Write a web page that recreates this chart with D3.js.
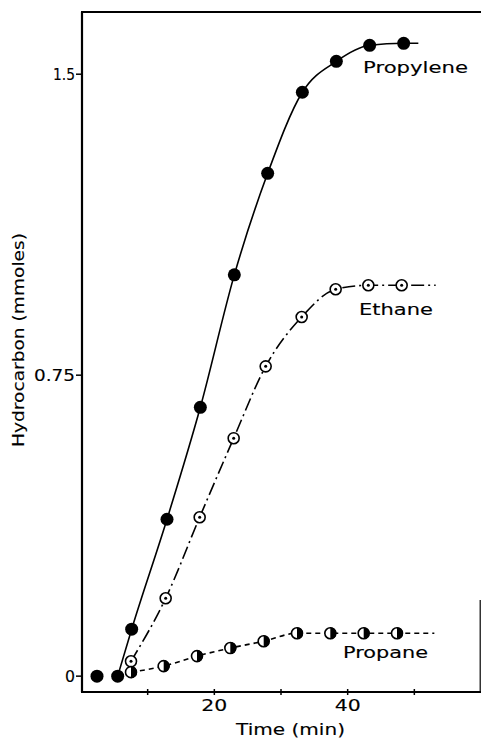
<!DOCTYPE html>
<html>
<head>
<meta charset="utf-8">
<script src="https://cdn.jsdelivr.net/npm/d3@7"></script>
<style>
  body { margin: 0; background: #fff; }
  svg { display: block; }
  text { font-family: "DejaVu Sans", sans-serif; fill: #000; stroke: #000; stroke-width: 0.12; }
</style>
</head>
<body>
<svg id="chart" width="482" height="738"></svg>
<script>
// time (min) and hydrocarbon (mmoles)
var propyleneTime = [2.4, 5.5, 7.6, 12.9, 17.9, 23.0, 28.0, 33.2, 38.3, 43.3, 48.4];
var propyleneVal  = [0, 0, 0.117, 0.391, 0.67, 1.0, 1.253, 1.455, 1.532, 1.572, 1.577];
var ethaneTime = [7.5, 12.7, 17.8, 22.9, 27.7, 33.1, 38.2, 43.1, 48.1];
var ethaneVal  = [0.037, 0.194, 0.396, 0.593, 0.772, 0.895, 0.964, 0.974, 0.974];
var propaneTime = [7.5, 12.4, 17.4, 22.4, 27.4, 32.4, 37.4, 42.4, 47.4];
var propaneVal  = [0.01, 0.025, 0.05, 0.07, 0.087, 0.107, 0.107, 0.107, 0.107];
// where each drawn curve stops past its last point
var lineEndTime = [50.6, 53.2, 53.0];

var yTicks = [0, 0.75, 1.5];
var yTickLabels = ["0", "0.75", "1.5"];
var xTicks = [10, 20, 30, 40, 50];
var xTickLabels = {20: "20", 40: "40"};

(function() {
    'use strict';

    var svg = d3.select("#chart");

    var x = d3.scaleLinear().domain([0, 60]).range([81, 481]);
    var y = d3.scaleLinear().domain([-0.037, 1.655]).range([691, 12]);

    function pts(ts, vs) {
        return ts.map(function(t, i) { return {t: t, v: vs[i]}; });
    }

    var propylene = pts(propyleneTime, propyleneVal),
        ethane = pts(ethaneTime, ethaneVal),
        propane = pts(propaneTime, propaneVal);

    var line = d3.line()
        .x(function(d) { return x(d.t); })
        .y(function(d) { return y(d.v); })
        .curve(d3.curveMonotoneX);

    var bottom = y.range()[0] + 1, top = y.range()[1];

    // frame: left, bottom, top and a short piece of the right edge
    svg.append("line")
        .attr("x1", x(0) + 1).attr("x2", x(0) + 1)
        .attr("y1", top).attr("y2", bottom)
        .attr("stroke", "#000").attr("stroke-width", 2.2);
    svg.append("line")
        .attr("x1", x(0)).attr("x2", x(60))
        .attr("y1", bottom).attr("y2", bottom)
        .attr("stroke", "#000").attr("stroke-width", 2);
    svg.append("line")
        .attr("x1", x(0)).attr("x2", x(60))
        .attr("y1", top).attr("y2", top)
        .attr("stroke", "#000").attr("stroke-width", 1.8);
    svg.append("line")
        .attr("x1", x(60) - 0.8).attr("x2", x(60) - 0.8)
        .attr("y1", 600).attr("y2", bottom)
        .attr("stroke", "#000").attr("stroke-width", 1.2);

    // y ticks
    var yt = svg.append("g");
    var yLabelW = [10, 41, 22];
    yTicks.forEach(function(v, i) {
        yt.append("line")
            .attr("x1", x(0) - 5).attr("x2", x(0) + 1)
            .attr("y1", y(v)).attr("y2", y(v))
            .attr("stroke", "#000").attr("stroke-width", 1.5);
        yt.append("text")
            .attr("x", x(0) - 6).attr("y", y(v)).attr("dy", "0.36em")
            .attr("text-anchor", "end")
            .style("font-size", "15px")
            .attr("textLength", yLabelW[i])
            .attr("lengthAdjust", "spacingAndGlyphs")
            .text(yTickLabels[i]);
    });

    // x ticks
    var xt = svg.append("g");
    xTicks.forEach(function(t) {
        xt.append("line")
            .attr("x1", x(t)).attr("x2", x(t))
            .attr("y1", bottom - 3).attr("y2", bottom + 3)
            .attr("stroke", "#000").attr("stroke-width", 1.5);
        if (xTickLabels[t]) {
            xt.append("text")
                .attr("x", x(t) - 13).attr("y", 711)
                .style("font-size", "15px")
                .attr("textLength", 26)
                .attr("lengthAdjust", "spacingAndGlyphs")
                .text(xTickLabels[t]);
        }
    });

    // axis titles
    svg.append("text")
        .attr("x", 236).attr("y", 735)
        .style("font-size", "15px")
        .attr("textLength", 109)
        .attr("lengthAdjust", "spacingAndGlyphs")
        .text("Time (min)");
    svg.append("text")
        .attr("transform", "translate(24,447) rotate(-90)")
        .style("font-size", "15px")
        .attr("textLength", 214)
        .attr("lengthAdjust", "spacingAndGlyphs")
        .text("Hydrocarbon (mmoles)");

    // curves
    var propyleneLine = propylene.slice(1).concat([{t: lineEndTime[0], v: propyleneVal[propyleneVal.length - 1]}]);
    var ethaneLine = ethane.concat([{t: lineEndTime[1], v: ethaneVal[ethaneVal.length - 1]}]);
    var propaneLine = propane.concat([{t: lineEndTime[2], v: propaneVal[propaneVal.length - 1]}]);

    svg.append("path").datum(propyleneLine)
        .attr("d", line).attr("fill", "none")
        .attr("stroke", "#000").attr("stroke-width", 1.6);
    svg.append("path").datum(ethaneLine)
        .attr("d", line).attr("fill", "none")
        .attr("stroke", "#000").attr("stroke-width", 1.6)
        .attr("stroke-dasharray", "13,4,2,4");
    svg.append("path").datum(propaneLine)
        .attr("d", line).attr("fill", "none")
        .attr("stroke", "#000").attr("stroke-width", 1.6)
        .attr("stroke-dasharray", "5,4");

    // markers
    svg.append("g").selectAll("circle")
        .data(propylene).enter().append("circle")
        .attr("cx", function(d) { return x(d.t); })
        .attr("cy", function(d) { return y(d.v); })
        .attr("r", 6.5)
        .attr("fill", "#000");

    var eg = svg.append("g").selectAll("g")
        .data(ethane).enter().append("g")
        .attr("transform", function(d) { return "translate(" + x(d.t) + "," + y(d.v) + ")"; });
    eg.append("circle").attr("r", 5.5)
        .attr("fill", "#fff").attr("stroke", "#000").attr("stroke-width", 1.6);
    eg.append("circle").attr("r", 1.5).attr("fill", "#000");

    var halfArc = d3.arc()
        .innerRadius(0).outerRadius(6)
        .startAngle(0).endAngle(Math.PI);
    var pg = svg.append("g").selectAll("g")
        .data(propane).enter().append("g")
        .attr("transform", function(d) { return "translate(" + x(d.t) + "," + y(d.v) + ")"; });
    pg.append("circle").attr("r", 5.5)
        .attr("fill", "#fff").attr("stroke", "#000").attr("stroke-width", 1.6);
    pg.append("path").attr("d", halfArc).attr("fill", "#000");

    // series labels
    var labels = [
        {text: "Propylene", x: 363, y: 73, w: 105},
        {text: "Ethane", x: 359, y: 315, w: 74},
        {text: "Propane", x: 343, y: 658, w: 85}
    ];
    svg.append("g").selectAll("text")
        .data(labels).enter().append("text")
        .attr("x", function(d) { return d.x; })
        .attr("y", function(d) { return d.y; })
        .attr("textLength", function(d) { return d.w; })
        .attr("lengthAdjust", "spacingAndGlyphs")
        .style("font-size", "15px")
        .text(function(d) { return d.text; });
})();
</script>
</body>
</html>
